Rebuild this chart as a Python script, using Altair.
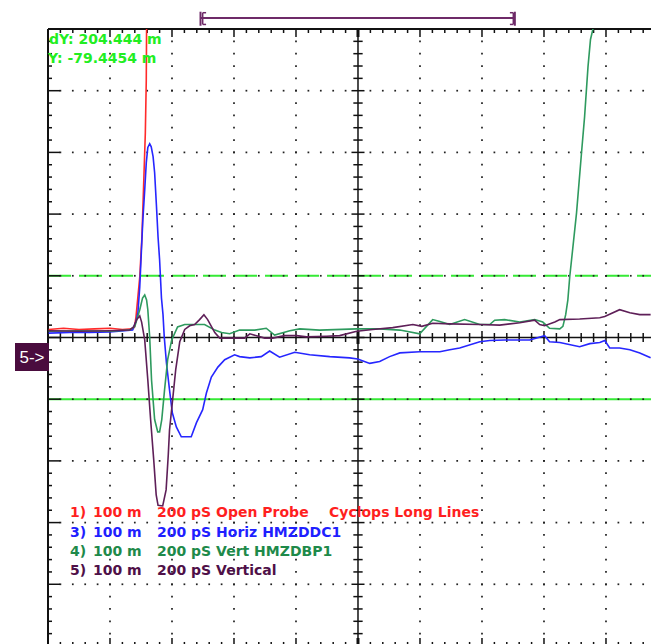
import altair as alt
import pandas as pd

# ---- trace data: time in ps (0 = screen centre), reflection in m-rho ----
RED_T = [-998, -950, -900, -850, -800, -760, -727, -721, -716, -704, -697, -691, -686, -683, -682, -680]
RED_V = [13, 15, 13, 14, 15, 13, 14, 17, 34, 98, 163, 255, 332, 416, 500, 580]

BLUE_T = [-998, -930, -866, -801, -753, -727, -717, -710, -704, -699, -694, -688, -683, -678, -672,
          -667, -661, -656, -650, -645, -640, -634, -629, -625, -618, -608, -599, -586, -570, -538,
          -521, -501, -489, -473, -452, -430, -398, -382, -349, -312, -285, -253, -204, -156, -91,
          -27, -1, 38, 70, 102, 135, 199, 264, 296, 328, 393, 425, 473, 554, 602,
          618, 651, 715, 748, 780, 796, 812, 844, 877, 909, 944]
BLUE_V = [7, 8, 8, 9, 11, 12, 25, 40, 82, 137, 191, 239, 283, 308, 314,
          309, 293, 267, 212, 163, 126, 64, 37, 1, -41, -85, -122, -145, -161, -161,
          -138, -117, -90, -64, -48, -36, -28, -31, -33, -31, -22, -32, -24, -28, -31,
          -33, -35, -42, -39, -31, -25, -23, -23, -20, -17, -7, -5, -4, -4, 3,
          -7, -8, -15, -10, -8, -5, -17, -17, -20, -25, -33]

GREEN_T = [-998, -898, -801, -737, -720, -704, -695, -688, -682, -678, -672, -666, -656, -646, -640,
           -633, -624, -614, -601, -582, -559, -495, -462, -440, -414, -382, -333, -296, -269, -220,
           -188, -124, -4, 70, 135, 199, 241, 264, 296, 344, 393, 425, 441, 473, 522,
           570, 596, 618, 651, 661, 670, 677, 683, 705, 721, 731, 742, 750, 758, 764]
GREEN_V = [10, 11, 10, 12, 18, 45, 64, 69, 61, 45, 1, -69, -133, -153, -153,
           -133, -85, -36, -4, 17, 21, 21, 12, 8, 6, 12, 12, 15, 4, 11,
           14, 12, 14, 14, 12, 6, 29, 26, 21, 29, 21, 21, 28, 29, 25,
           29, 25, 15, 14, 18, 37, 61, 98, 202, 299, 358, 439, 483, 500, 547]

PURPLE_T = [-998, -898, -801, -737, -724, -714, -704, -698, -688, -678, -669, -659, -651, -645, -630,
            -619, -612, -608, -598, -588, -575, -559, -543, -527, -511, -497, -485, -462, -446, -398,
            -366, -349, -301, -275, -237, -198, -166, -101, -59, -4, 47, 112, 177, 206, 241,
            296, 393, 457, 522, 570, 586, 602, 635, 651, 715, 780, 796, 844, 877, 909, 944]
PURPLE_V = [11, 10, 11, 12, 17, 29, 35, 25, -4, -69, -133, -198, -255, -272, -273,
            -247, -190, -150, -101, -52, -7, 13, 19, 21, 29, 37, 29, 8, -1, -1,
            -1, 6, -1, -1, 3, 3, 1, 2, 3, 10, 13, 16, 21, 18, 23,
            22, 21, 20, 24, 28, 21, 19, 25, 29, 30, 32, 34, 45, 40, 37, 37]

CHANNELS = ["1", "3", "4", "5"]
TRACE_COLORS = ["#ff2a2a", "#2626ff", "#2e9a5e", "#5e1f58"]
TEXT_COLORS = ["#ff1f1f", "#1f1fff", "#1e8a4a", "#4f1048"]

LEGEND_CH = ["1)", "3)", "4)", "5)"]
LEGEND_SCALE = ["100 m", "100 m", "100 m", "100 m"]
LEGEND_DESC = ["200 pS Open Probe", "200 pS Horiz HMZDDC1", "200 pS Vert HMZDBP1", "200 pS Vertical"]
LEGEND_EXTRA = "Cyclops Long Lines"
READOUT = ["dY: 204.444 m", "Y: -79.4454 m"]

# screen: 200 ps/div horizontally, 100 m/div vertically
X_MIN, X_MAX = -1000, 945.2
Y_MIN, Y_MAX = -496.8, 500
xs = alt.Scale(domain=[X_MIN, X_MAX], nice=False, zero=False)
ys = alt.Scale(domain=[Y_MIN, Y_MAX], nice=False, zero=False)

rows = []
for ch, ts, vs in zip(CHANNELS, [RED_T, BLUE_T, GREEN_T, PURPLE_T], [RED_V, BLUE_V, GREEN_V, PURPLE_V]):
    for i, (t, v) in enumerate(zip(ts, vs)):
        rows.append({"ch": ch, "t": t, "v": v, "i": i})
traces = pd.DataFrame(rows)

# dotted graticule
dots = []
for t in [-800, -600, -400, -200, 200, 400, 600, 800]:
    for v in range(-480, 500, 20):
        dots.append({"t": t, "v": v})
for v in [-400, -300, -200, -100, 100, 200, 300, 400]:
    for t in range(-960, 945, 40):
        if t != 0:
            dots.append({"t": t, "v": v})
dots = pd.DataFrame(dots)

# frame, centre axes and tick marks
segs = [
    (-1000, -1000, -500, 500, 2),
    (-1000, X_MAX, 500, 500, 2),
    (-1000, X_MAX, 0, 0, 1.5),
    (0, 0, -500, 500, 1.5),
]
for k in range(-25, 24):
    t = k * 40
    major = t % 200 == 0
    w = 3 if t == 0 else 1.5
    ln = 13 if major else 6.5
    segs.append((t, t, 500, 500 - ln, w))
    segs.append((t, t, -500, -500 + ln, w))
    h = 10.5 if major else 7.3
    segs.append((t, t, -h, h, w))
for j in range(-25, 26):
    v = j * 20
    major = v % 100 == 0
    segs.append((-1000, -1000 + (38.7 if major else 12.9), v, v, 1.5))
    h = 21 if major else 15
    segs.append((-h, h, v, v, 1.5))
segs = pd.DataFrame(segs, columns=["x1", "x2", "y1", "y2", "w"])

# cursor bracket above the screen
bracket = pd.DataFrame([
    (-508, 506, 517.8, 517.8, 2),
    (-508, -508, 505.3, 528, 2), (506, 506, 505.3, 528, 2),
    (-501, -501, 507.4, 526.4, 1.5), (-501, -490, 526.4, 526.4, 1.5), (-501, -490, 507.4, 507.4, 1.5),
    (501, 501, 507.4, 526.4, 1.5), (490, 501, 526.4, 526.4, 1.5), (490, 501, 507.4, 507.4, 1.5),
], columns=["x1", "x2", "y1", "y2", "w"])

refs = pd.DataFrame({"x1": [X_MIN], "x2": [X_MAX]})


def seg_layer(df, color):
    return alt.Chart(df).mark_rule(color=color).encode(
        x=alt.X("x1:Q", scale=xs, axis=None), x2="x2:Q",
        y=alt.Y("y1:Q", scale=ys, axis=None), y2="y2:Q",
        strokeWidth=alt.StrokeWidth("w:Q", scale=None),
    )


def ref_line(v, dash=None):
    kw = {"strokeDash": dash} if dash else {}
    return alt.Chart(refs).mark_rule(color="#36ea36", strokeWidth=2, **kw).encode(
        x=alt.X("x1:Q", scale=xs, axis=None), x2="x2:Q",
        y=alt.Y("yv:Q", scale=ys, axis=None),
    ).transform_calculate(yv=str(v))


ONE = pd.DataFrame({"k": [0]})


def label(text, x, y, color, size=14, font="DejaVu Sans", weight="bold", align="left", baseline="alphabetic"):
    return alt.Chart(ONE).mark_text(
        text=text, align=align, baseline=baseline, font=font,
        fontSize=size, fontWeight=weight, color=color,
    ).encode(x=alt.value(x), y=alt.value(y))


dot_layer = alt.Chart(dots).mark_square(size=3, color="#222222", opacity=1).encode(
    x=alt.X("t:Q", scale=xs, axis=None), y=alt.Y("v:Q", scale=ys, axis=None)
)

trace_layer = alt.Chart(traces).mark_line(clip=True, strokeWidth=1.6).encode(
    x=alt.X("t:Q", scale=xs, axis=None),
    y=alt.Y("v:Q", scale=ys, axis=None),
    color=alt.Color("ch:N", scale=alt.Scale(domain=CHANNELS, range=TRACE_COLORS), legend=None),
    order="i:Q",
)

marker_box = alt.Chart(ONE).mark_rect(color="#4a0c3e").encode(
    x=alt.value(-33), x2=alt.value(1), y=alt.value(314), y2=alt.value(342)
)
marker_text = label("5->", -16, 328.5, "white", size=17, font="Liberation Sans",
                    weight="normal", align="center", baseline="middle")

texts = []
ys_base = [487.5, 507.5, 526.5, 545.5]
for k in range(4):
    texts.append(label(LEGEND_CH[k], 22, ys_base[k], TEXT_COLORS[k]))
    texts.append(label(LEGEND_SCALE[k], 45, ys_base[k], TEXT_COLORS[k]))
    texts.append(label(LEGEND_DESC[k], 109, ys_base[k], TEXT_COLORS[k]))
texts.append(label(LEGEND_EXTRA, 281, ys_base[0], TEXT_COLORS[0]))
texts.append(label(READOUT[0], 1, 15, "#22ee22"))
texts.append(label(READOUT[1], 0, 34, "#22ee22"))

chart = alt.layer(
    ref_line(100, [23, 8]),
    ref_line(-100),
    dot_layer,
    seg_layer(segs, "#111111"),
    trace_layer,
    seg_layer(bracket, "#6e2a68"),
    marker_box,
    marker_text,
    *texts,
).properties(
    width=603,
    height=615,
    autosize=alt.AutoSizeParams(type="none"),
    padding={"left": 48, "top": 29, "right": 0, "bottom": 0},
    background="white",
).configure_view(strokeWidth=0)

chart.save("out.html", embed_options={"renderer": "svg", "actions": False})
